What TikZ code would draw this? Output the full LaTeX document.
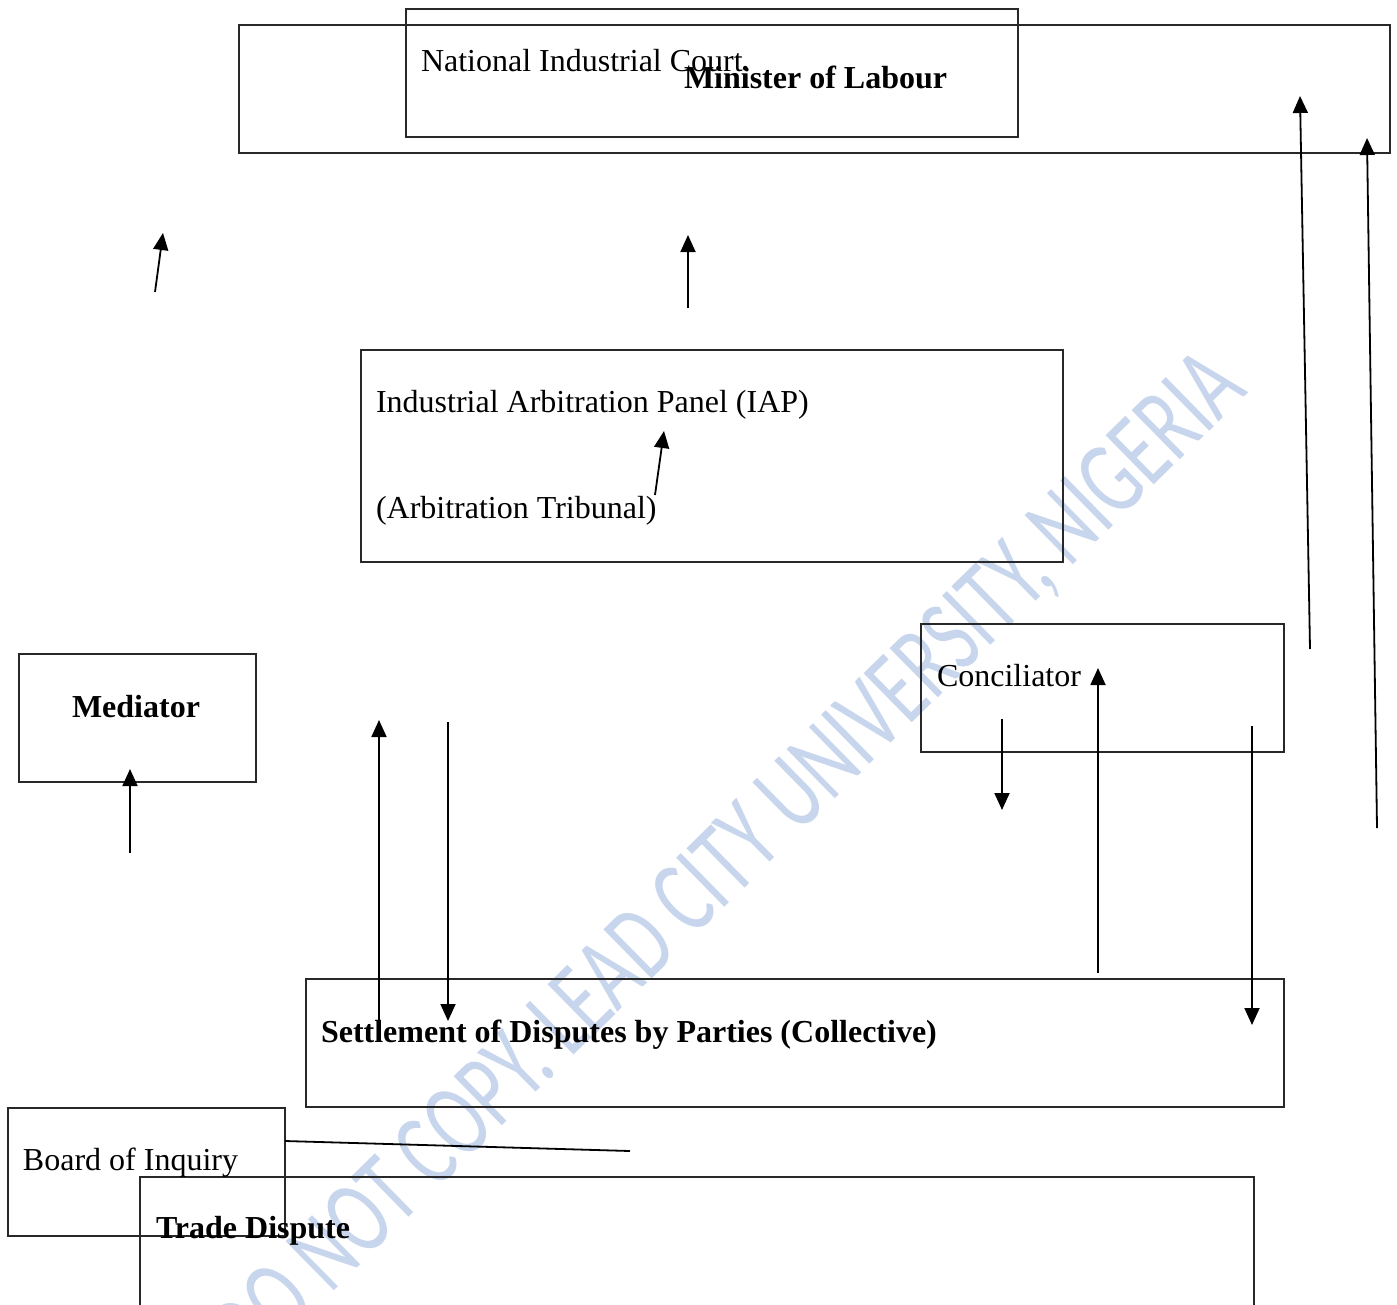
\documentclass[tikz,border=0pt]{standalone}
\usepackage{fontspec}
\setmainfont{Liberation Serif}
\newfontfamily\wmfont{Carlito}
\usetikzlibrary{arrows.meta}
\definecolor{wmblue}{RGB}{199,213,237}
\definecolor{boxgray}{RGB}{40,40,40}
\begin{document}
\begin{tikzpicture}[x=1pt,y=-1pt,
  box/.style={draw=boxgray, line width=1.1pt, inner sep=0pt, outer sep=0pt, anchor=north west},
  lbl/.style={inner sep=0pt, outer sep=0pt, anchor=base west, font=\fontsize{32}{38}\selectfont},
  blbl/.style={lbl, font=\fontsize{32}{38}\selectfont\bfseries},
  arr/.style={line width=1.8pt, -{Triangle[width=15pt,length=17pt]}},
  plainline/.style={line width=1.8pt},
  wm/.style={inner sep=0pt, outer sep=0pt, text=wmblue, font=\wmfont\fontsize{74}{80}\selectfont}]
\useasboundingbox (0,0) rectangle (1397,1304);
% watermark
\node[wm, rotate=44.5, anchor=base east] (watermark) at (1249,392)
  {\scalebox{1}[1.45]{DO NOT COPY. LEAD CITY UNIVERSITY, NIGERIA}};
% boxes
\node[box, minimum width=1151pt, minimum height=128pt] (minister) at (239,25) {};
\node[box, minimum width=612pt, minimum height=128pt] (nic) at (406,9) {};
\node[box, minimum width=702pt, minimum height=212pt] (iap) at (361,350) {};
\node[box, minimum width=237pt, minimum height=128pt] (mediator) at (19,654) {};
\node[box, minimum width=363pt, minimum height=128pt] (conciliator) at (921,624) {};
\node[box, minimum width=978pt, minimum height=128pt] (settlement) at (306,979) {};
\node[box, minimum width=277pt, minimum height=128pt] (board) at (8,1108) {};
\node[box, minimum width=1114pt, minimum height=160pt] (trade) at (140,1177) {};
% texts
\node[lbl] (tnic) at (421,71) {National Industrial Court.};
\node[blbl] (tmin) at (684,88) {Minister of Labour};
\node[lbl] (tiap1) at (376,412) {Industrial Arbitration Panel (IAP)};
\node[lbl] (tiap2) at (376,518) {(Arbitration Tribunal)};
\node[blbl, anchor=base] (tmed) at (136,717) {Mediator};
\node[lbl] (tcon) at (937,686) {Conciliator};
\node[blbl] (tset) at (321,1042) {Settlement of Disputes by Parties (Collective)};
\node[lbl] (tboard) at (23,1170) {Board of Inquiry};
\node[blbl] (ttrade) at (156,1238) {Trade Dispute};
% arrow end points
\coordinate (a1s) at (155,292); \coordinate (a1e) at (163,233);
\coordinate (a2s) at (688,308); \coordinate (a2e) at (688,235);
\coordinate (a3s) at (1310,649); \coordinate (a3e) at (1300,96);
\coordinate (a4s) at (1377,828); \coordinate (a4e) at (1367,138);
\coordinate (a5s) at (655,495); \coordinate (a5e) at (664,431);
\coordinate (a6s) at (130,853); \coordinate (a6e) at (130,769);
\coordinate (a7s) at (379,1022); \coordinate (a7e) at (379,720);
\coordinate (a8s) at (448,722); \coordinate (a8e) at (448,1021);
\coordinate (a9s) at (1002,719); \coordinate (a9e) at (1002,810);
\coordinate (a10s) at (1098,973); \coordinate (a10e) at (1098,668);
\coordinate (a11s) at (1252,726); \coordinate (a11e) at (1252,1025);
\coordinate (l1s) at (285,1141); \coordinate (l1e) at (630,1151);
% arrows
\draw[arr] (a1s) -- (a1e);
\draw[arr] (a2s) -- (a2e);
\draw[arr] (a3s) -- (a3e);
\draw[arr] (a4s) -- (a4e);
\draw[arr] (a5s) -- (a5e);
\draw[arr] (a6s) -- (a6e);
\draw[arr] (a7s) -- (a7e);
\draw[arr] (a8s) -- (a8e);
\draw[arr] (a9s) -- (a9e);
\draw[arr] (a10s) -- (a10e);
\draw[arr] (a11s) -- (a11e);
\draw[plainline] (l1s) -- (l1e);
\end{tikzpicture}
\end{document}
